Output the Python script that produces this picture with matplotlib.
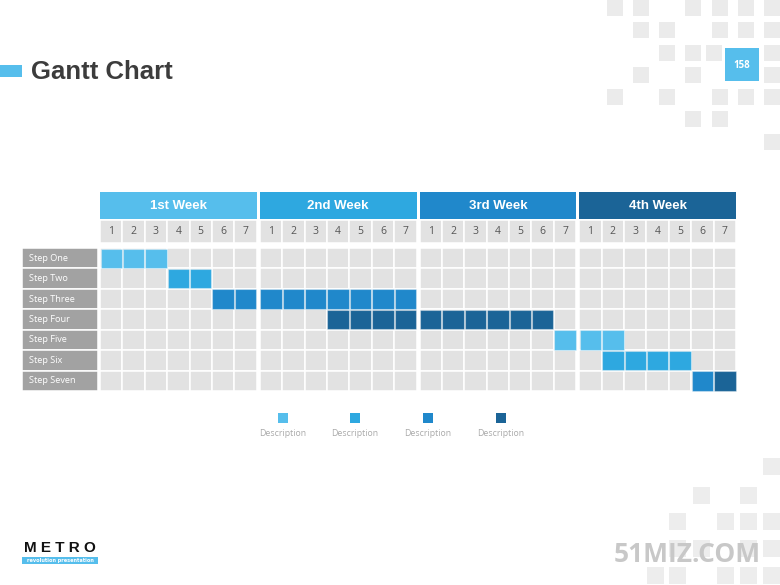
import matplotlib
matplotlib.use("Agg")
import matplotlib.pyplot as plt
from matplotlib.patches import Rectangle
import numpy as np

# ---------------- data ----------------
title = "Gantt Chart"
page_number = "158"
weeks = ["1st Week", "2nd Week", "3rd Week", "4th Week"]
days_per_week = 7
day_labels = [str(i) for i in range(1, 8)]
steps = ["Step One", "Step Two", "Step Three", "Step Four",
         "Step Five", "Step Six", "Step Seven"]
# segments: (step index, start day index 0..27, length in days, colour level)
seg_step = [0, 1, 2, 3, 4, 5, 6, 6]
seg_start = [0, 3, 5, 10, 20, 22, 26, 27]
seg_len = [3, 2, 9, 10, 3, 4, 1, 1]
seg_level = [0, 1, 2, 3, 0, 1, 2, 3]
legend_labels = ["Description", "Description", "Description", "Description"]

palette = ["#56BEEC", "#2EA8E0", "#2088CB", "#1B6497"]
cell_grey = "#E2E2E2"
label_grey = "#A2A2A2"

# ---------------- figure ----------------
W, H = 780, 585
fig = plt.figure(figsize=(W / 100, H / 100), dpi=100)
ax = fig.add_axes([0, 0, 1, 1])
ax.set_xlim(0, W)
ax.set_ylim(H, 0)
ax.axis("off")
fig.patch.set_facecolor("white")

# faint dotted background
xs, ys = np.meshgrid(np.arange(2, W, 6), np.arange(2, H, 6))
xs = xs.astype(float)
xs[1::2] += 3
ax.scatter(xs.ravel(), ys.ravel(), s=0.5, c="#ECECEC", marker="s", linewidths=0, zorder=0)

# decorative squares (top right)
top_sq = [(607, 0), (633, 0), (685, 0), (712, 0), (738, 0), (764, 0),
          (633, 22), (659, 22), (712, 22), (738, 22), (764, 22),
          (659, 45), (685, 45), (706, 45), (764, 45),
          (633, 67), (685, 67), (764, 67),
          (607, 89), (659, 89), (712, 89), (738, 89), (764, 89),
          (685, 111), (712, 111),
          (764, 134)]
for (x, y) in top_sq:
    ax.add_patch(Rectangle((x, y), 16, 16, facecolor="#EBEBEB", edgecolor="none", zorder=1))
bot_sq = [(763, 458),
          (693, 487), (740, 487),
          (669, 513), (717, 513), (740, 513), (763, 513),
          (669, 540), (693, 540), (740, 540), (763, 540),
          (647, 567), (669, 567), (717, 567), (740, 567), (763, 567)]
for (x, y) in bot_sq:
    ax.add_patch(Rectangle((x, y), 17, 17, facecolor="#EDEDED", edgecolor="none", zorder=1))

# page number box
ax.add_patch(Rectangle((725, 48), 34, 33, facecolor=palette[0], edgecolor="none", zorder=2))
ax.text(742, 65, page_number, ha="center", va="center", color="white",
        fontsize=7, fontweight="bold", family="Open Sans", zorder=3)

# title
ax.add_patch(Rectangle((0, 65), 22, 12, facecolor=palette[0], edgecolor="none", zorder=2))
ax.text(31, 72, title, ha="left", va="center", color="#3C3C3C",
        fontsize=18.5, fontweight="bold", family="Liberation Sans", zorder=3)

# ---------------- gantt geometry ----------------
grid_left, grid_right = 100, 736
week_gap = 3
week_w = (grid_right - grid_left - week_gap * (len(weeks) - 1)) / len(weeks)
day_w = week_w / days_per_week
hdr_top, hdr_bot = 192, 219
num_top, num_bot = 220, 243
rows_top, rows_bot = 248, 391
row_h = (rows_bot - rows_top) / len(steps)
label_left, label_right = 22, 98

def day_x(d):
    w = d // days_per_week
    return grid_left + w * (week_w + week_gap) + (d % days_per_week) * day_w

n_days = len(weeks) * days_per_week

# week headers
for wi, name in enumerate(weeks):
    x = grid_left + wi * (week_w + week_gap)
    ax.add_patch(Rectangle((x, hdr_top), week_w, hdr_bot - hdr_top,
                           facecolor=palette[wi], edgecolor="none", zorder=2))
    ax.text(x + week_w / 2, (hdr_top + hdr_bot) / 2 + 0.5, name, ha="center", va="center",
            color="white", fontsize=9.5, fontweight="bold", family="Liberation Sans", zorder=3)

# day numbers
for d in range(n_days):
    x = day_x(d)
    ax.add_patch(Rectangle((x, num_top), day_w, num_bot - num_top,
                           facecolor=cell_grey, edgecolor="white", linewidth=1.1, zorder=2))
    ax.text(x + day_w / 2, (num_top + num_bot) / 2, day_labels[d % days_per_week],
            ha="center", va="center", color="#555555", fontsize=7.5,
            family="Open Sans", zorder=3)

# grid cells and row labels
for r, name in enumerate(steps):
    y = rows_top + r * row_h
    ax.add_patch(Rectangle((label_left, y), label_right - label_left, row_h,
                           facecolor=label_grey, edgecolor="white", linewidth=1.1, zorder=2))
    ax.text(label_left + 7, y + row_h / 2, name, ha="left", va="center",
            color="white", fontsize=6.6, family="Open Sans", zorder=3)
    for d in range(n_days):
        ax.add_patch(Rectangle((day_x(d), y), day_w, row_h,
                               facecolor=cell_grey, edgecolor="white", linewidth=1.1, zorder=2))

# bars
for s, st, ln, lv in zip(seg_step, seg_start, seg_len, seg_level):
    y = rows_top + s * row_h
    for d in range(st, st + ln):
        ax.add_patch(Rectangle((day_x(d) + 0.5, y + 0.5), day_w - 1.0, row_h - 1.0,
                               facecolor=palette[lv], edgecolor=(1, 1, 1, 0.35),
                               linewidth=0.8, zorder=4))

# legend
leg_x = [283, 355, 428, 501]
for i, lab in enumerate(legend_labels):
    ax.add_patch(Rectangle((leg_x[i] - 5, 413), 10, 10, facecolor=palette[i],
                           edgecolor="none", zorder=3))
    ax.text(leg_x[i], 433, lab, ha="center", va="center", color="#AAAAAA",
            fontsize=6.3, family="Open Sans", zorder=3)

# logo
ax.text(60, 548, "M E T R O", ha="center", va="center", color="#111111",
        fontsize=11, fontweight="bold", family="Liberation Sans", zorder=3)
ax.add_patch(Rectangle((22, 557), 76, 7, facecolor=palette[0], edgecolor="none", zorder=3))
ax.text(60, 560.5, "revolution presentation", ha="center", va="center", color="white",
        fontsize=3.6, fontweight="bold", family="DejaVu Sans", zorder=4)

# watermark
ax.text(687, 554, "51MIZ.COM", ha="center", va="center", color="#C8C8C8",
        fontsize=19, fontweight="bold", family="Open Sans", zorder=3)

fig.savefig("out.png", dpi=100)
